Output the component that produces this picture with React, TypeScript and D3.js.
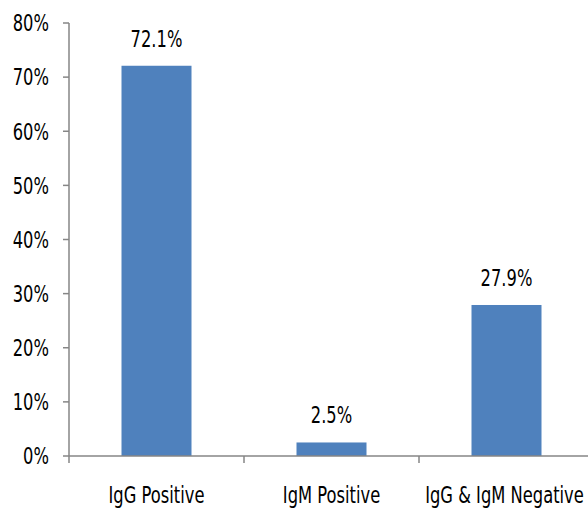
import React from "react";
import * as d3 from "d3";

const categories = ["IgG Positive", "IgM Positive", "IgG & IgM Negative"];
const values = [72.1, 2.5, 27.9];
const valueLabels = ["72.1%", "2.5%", "27.9%"];
const yTicks = [0, 10, 20, 30, 40, 50, 60, 70, 80];

const W = 588;
const H = 508;
const FONT = "'DejaVu Sans', sans-serif";
const FS = 23;
const SX = 0.71;

function Label({ x, y, anchor, children, dy }: { x: number; y: number; anchor: string; children: React.ReactNode; dy?: string }) {
  return (
    <text
      transform={`translate(${x},${y}) scale(${SX},1)`}
      textAnchor={anchor}
      dy={dy}
      fontSize={FS}
      fill="#000"
    >
      {children}
    </text>
  );
}

export default function App() {
  const x0 = 69;
  const band = 175;
  const x = d3
    .scaleBand<string>()
    .domain(categories)
    .range([x0, x0 + band * categories.length])
    .paddingInner(0.6)
    .paddingOuter(0.3);
  const y = d3.scaleLinear().domain([0, 80]).range([456, 23]);
  const axisColor = "#868686";

  return (
    <svg
      width={W}
      height={H}
      style={{ position: "absolute", left: 0, top: 0, background: "#fff" }}
      fontFamily={FONT}
    >
      {/* y axis */}
      <line x1={x0} x2={x0} y1={y(80)} y2={y(0)} stroke={axisColor} strokeWidth={1.5} />
      {yTicks.map((t) => (
        <g key={t}>
          <line x1={x0 - 6} x2={x0} y1={y(t)} y2={y(t)} stroke={axisColor} strokeWidth={1.5} />
          <Label x={49} y={y(t)} anchor="end" dy="0.36em">
            {t}%
          </Label>
        </g>
      ))}
      {/* bars */}
      {categories.map((c, i) => (
        <rect
          key={c}
          x={x(c)}
          y={y(values[i])}
          width={x.bandwidth()}
          height={y(0) - y(values[i])}
          fill="#4F81BD"
        />
      ))}
      {/* x axis */}
      <line x1={x0} x2={W} y1={y(0)} y2={y(0)} stroke={axisColor} strokeWidth={1.5} />
      {categories.map((c, i) => (
        <line
          key={"t" + i}
          x1={x0 + band * i}
          x2={x0 + band * i}
          y1={y(0)}
          y2={y(0) + 7}
          stroke={axisColor}
          strokeWidth={1.5}
        />
      ))}
      {categories.map((c, i) => (
        <Label key={"l" + c} x={(x(c) as number) + x.bandwidth() / 2 + (i === 2 ? -2 : 0)} y={503} anchor="middle">
          {c}
        </Label>
      ))}
      {categories.map((c, i) => (
        <Label key={"v" + c} x={(x(c) as number) + x.bandwidth() / 2} y={y(values[i]) - 19} anchor="middle">
          {valueLabels[i]}
        </Label>
      ))}
    </svg>
  );
}
